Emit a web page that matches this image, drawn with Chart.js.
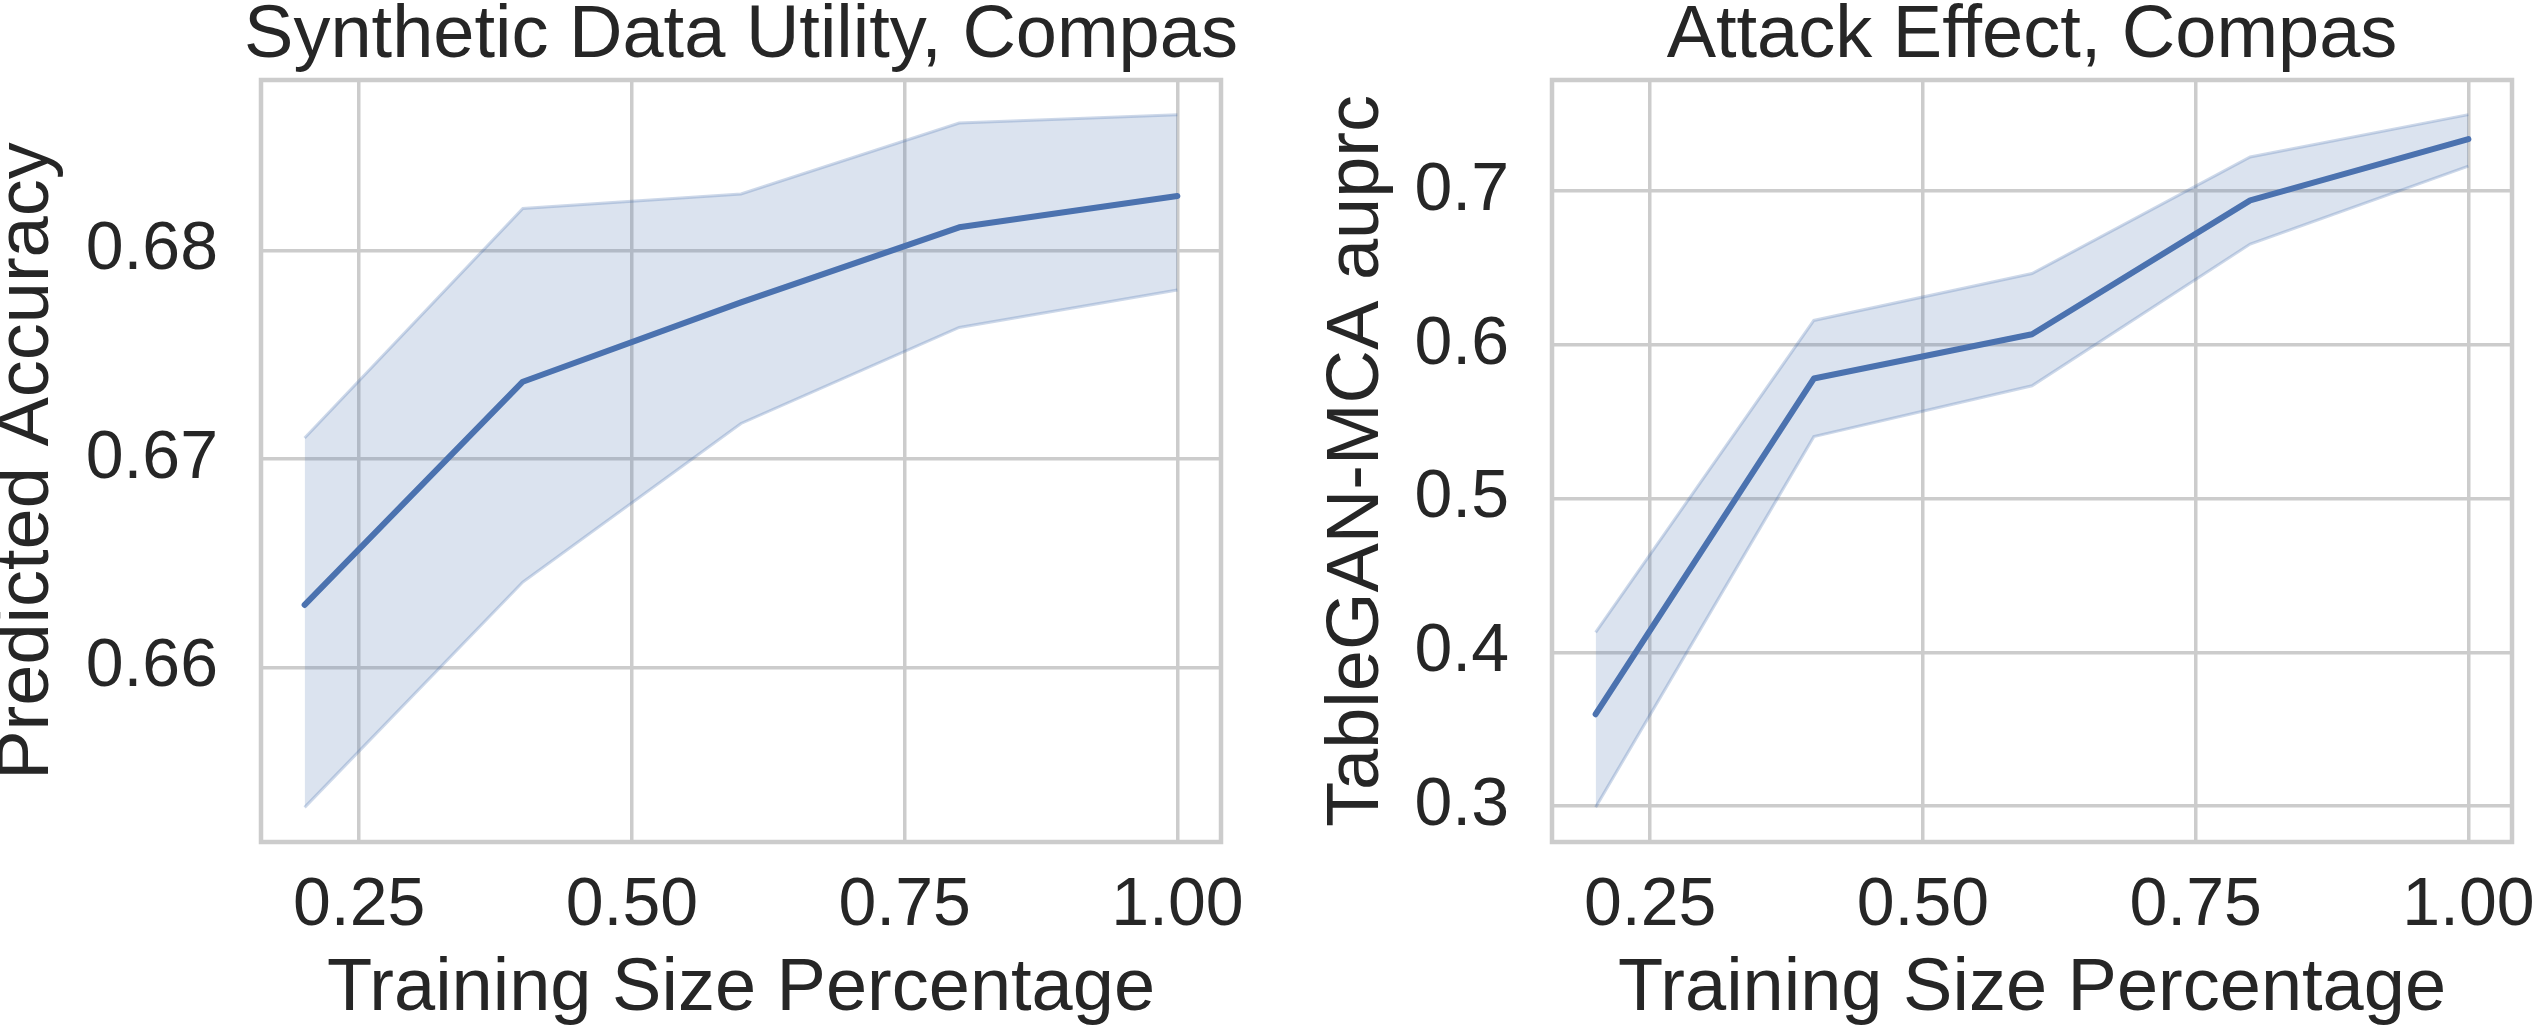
<!DOCTYPE html>
<html>
<head>
<meta charset="utf-8">
<script src="https://cdn.jsdelivr.net/npm/chart.js@4.4.1/dist/chart.umd.min.js"></script>
<style>
  body { margin: 0; background: #fff; }
  #wrap { position: relative; width: 2534px; height: 1032px; }
  canvas { position: absolute; top: 0; }
</style>
</head>
<body>
<div id="wrap">
  <canvas id="utility" width="1267" height="1032" style="left:0"></canvas>
  <canvas id="attack" width="1267" height="1032" style="left:1267px"></canvas>
</div>
<script>
// training size fractions (x)
const sizes = [0.2, 0.4, 0.6, 0.8, 1.0];

// left panel: synthetic data utility
const utilityMean  = [0.6630, 0.6737, 0.6775, 0.6811, 0.6826];
const utilityUpper = [0.6710, 0.6820, 0.6827, 0.6861, 0.6865];
const utilityLower = [0.6533, 0.6641, 0.6717, 0.6763, 0.6781];

// right panel: attack effect
const attackMean  = [0.3597, 0.5781, 0.6069, 0.6940, 0.7339];
const attackUpper = [0.4130, 0.6159, 0.6464, 0.7223, 0.7498];
const attackLower = [0.2991, 0.5403, 0.5734, 0.6656, 0.7163];

// tick labels
const xTicks = [0.25, 0.50, 0.75, 1.00];
const utilityTicks = [0.66, 0.67, 0.68];
const attackTicks = [0.3, 0.4, 0.5, 0.6, 0.7];

const BLUE = '#4c72b0';
const BAND = 'rgba(76,114,176,0.2)';
const BAND_EDGE = 'rgba(76,114,176,0.28)';
const TEXT = '#262626';
const GRID = '#cccccc';
const FONT = "'Liberation Sans', Arial, sans-serif";

// matplotlib style 5% margin around the data
function padRange(lo, hi) {
    const m = (hi - lo) * 0.05;
    return [lo - m, hi + m];
}

function points(ys) {
    return sizes.map((x, i) => ({ x: x, y: ys[i] }));
}

// frame around the axes and a title centred on it
const framePlugin = {
    id: 'frame',
    afterDatasetsDraw(chart, args, opts) {
        const { ctx, chartArea: a } = chart;
        ctx.save();
        ctx.strokeStyle = GRID;
        ctx.lineWidth = 4.5;
        ctx.strokeRect(a.left, a.top, a.right - a.left, a.bottom - a.top);
        ctx.fillStyle = TEXT;
        ctx.font = '74px ' + FONT;
        ctx.textAlign = 'center';
        ctx.textBaseline = 'alphabetic';
        ctx.fillText(opts.text, (a.left + a.right) / 2, 57);
        ctx.restore();
    }
};

function makeChart(id, cfg) {
    const xr = padRange(Math.min(...sizes), Math.max(...sizes));
    const yr = padRange(Math.min(...cfg.lower), Math.max(...cfg.upper));

    return new Chart(document.getElementById(id), {
        type: 'line',
        data: {
            datasets: [
                {
                    data: points(cfg.lower),
                    borderColor: BAND_EDGE,
                    borderWidth: 3,
                    pointRadius: 0,
                    fill: false
                },
                {
                    data: points(cfg.upper),
                    borderColor: BAND_EDGE,
                    borderWidth: 3,
                    pointRadius: 0,
                    backgroundColor: BAND,
                    fill: '-1'
                },
                {
                    data: points(cfg.mean),
                    borderColor: BLUE,
                    borderWidth: 6,
                    borderCapStyle: 'round',
                    borderJoinStyle: 'round',
                    pointRadius: 0,
                    fill: false
                }
            ]
        },
        options: {
            responsive: false,
            devicePixelRatio: 1,
            animation: false,
            layout: { padding: { left: 0, right: cfg.rightPad, top: 80, bottom: 0 } },
            plugins: {
                legend: { display: false },
                tooltip: { enabled: false },
                frame: { text: cfg.title }
            },
            scales: {
                x: {
                    type: 'linear',
                    min: xr[0],
                    max: xr[1],
                    afterBuildTicks: s => { s.ticks = xTicks.map(v => ({ value: v })); },
                    afterFit: s => { s.height = 190; s.paddingLeft = 0; s.paddingRight = 0; },
                    grid: { color: GRID, lineWidth: 3.5, drawTicks: false },
                    border: { display: false },
                    ticks: {
                        callback: v => v.toFixed(2),
                        color: TEXT,
                        font: { family: FONT, size: 68, lineHeight: 1.2 },
                        padding: 23.6,
                        maxRotation: 0,
                        autoSkip: false
                    },
                    title: {
                        display: true,
                        text: 'Training Size Percentage',
                        color: TEXT,
                        font: { family: FONT, size: 74, lineHeight: 1 },
                        padding: { top: 0, bottom: 5.6 }
                    }
                },
                y: {
                    min: yr[0],
                    max: yr[1],
                    afterBuildTicks: s => { s.ticks = cfg.yTicks.map(v => ({ value: v })); },
                    afterFit: s => { s.width = cfg.yWidth; s.paddingTop = 0; s.paddingBottom = 0; },
                    grid: { color: GRID, lineWidth: 3.5, drawTicks: false },
                    border: { display: false },
                    ticks: {
                        callback: v => v.toFixed(cfg.digits),
                        color: TEXT,
                        font: { family: FONT, size: 68 },
                        padding: 43,
                        autoSkip: false
                    },
                    title: {
                        display: true,
                        text: cfg.yLabel,
                        color: TEXT,
                        font: { family: FONT, size: 74, lineHeight: cfg.yTitleLH },
                        padding: { top: cfg.yTitlePad, bottom: 0 }
                    }
                }
            }
        },
        plugins: [framePlugin]
    });
}

makeChart('utility', {
    title: 'Synthetic Data Utility, Compas',
    mean: utilityMean, upper: utilityUpper, lower: utilityLower,
    yTicks: utilityTicks, digits: 2,
    yLabel: 'Predicted Accuracy',
    yWidth: 261, yTitleLH: 0.75, yTitlePad: 0,
    rightPad: 46
});

makeChart('attack', {
    title: 'Attack Effect, Compas',
    mean: attackMean, upper: attackUpper, lower: attackLower,
    yTicks: attackTicks, digits: 1,
    yLabel: 'TableGAN-MCA auprc',
    yWidth: 285, yTitleLH: 1, yTitlePad: 53.4,
    rightPad: 22
});
</script>
</body>
</html>
